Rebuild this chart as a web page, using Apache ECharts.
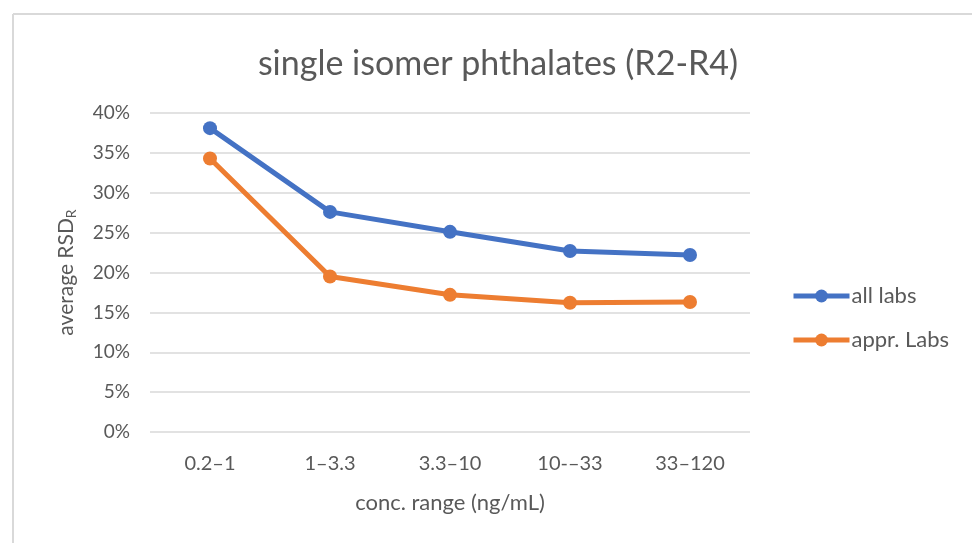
<!DOCTYPE html>
<html>
<head>
<meta charset="utf-8">
<script src="https://cdn.jsdelivr.net/npm/echarts@6/dist/echarts.min.js"></script>
<style>
  html, body { margin: 0; padding: 0; background: #fff; }
  #chart { width: 972px; height: 543px; }
</style>
</head>
<body>
<div id="chart"></div>
<script>
  const categories = ["0.2–1", "1–3.3", "3.3–10", "10-–33", "33–120"];
  const allLabs = [38.1, 27.6, 25.1, 22.7, 22.2];
  const apprLabs = [34.3, 19.5, 17.2, 16.2, 16.3];

  const font = "Lato";
  const grey = "#595959";

  const chart = echarts.init(document.getElementById("chart"));

  chart.setOption({
    animation: false,
    textStyle: { fontFamily: font },
    title: {
      text: "single isomer phthalates (R2-R4)",
      left: 493,
      top: 42,
      textAlign: "center",
      textStyle: { fontSize: 34, fontWeight: "normal", color: grey, fontFamily: font },
    },
    grid: { left: 150, right: 222, top: 113, bottom: 111 },
    legend: {
      orient: "vertical",
      left: 786,
      top: 280,
      itemGap: 22,
      itemWidth: 56,
      itemHeight: 16,
      lineStyle: { width: 5 },
      textStyle: { fontSize: 22, color: grey, fontFamily: font, padding: [0, 0, 0, -3] },
      data: ["all labs", "appr. Labs"],
    },
    xAxis: {
      type: "category",
      data: categories,
      axisLine: { show: false },
      axisTick: { show: false },
      axisLabel: { fontSize: 20, color: grey, margin: 22 },
      name: "conc. range (ng/mL)",
      nameLocation: "middle",
      nameGap: 60,
      nameTextStyle: { fontSize: 22, color: grey },
    },
    yAxis: {
      type: "value",
      min: 0,
      max: 40,
      interval: 5,
      axisLabel: { fontSize: 19, color: grey, margin: 20, formatter: "{value}%" },
      splitLine: { lineStyle: { color: "#d9d9d9", width: 1.5 } },
      name: "{a|average RSD}{s|R}",
      nameLocation: "middle",
      nameGap: 72,
      nameRotate: 90,
      nameTextStyle: {
        rich: {
          a: { fontSize: 21, color: grey, fontFamily: font },
          s: { fontSize: 14, color: grey, fontFamily: font, verticalAlign: "bottom", padding: [10, 0, 0, 0] },
        },
      },
    },
    series: [
      {
        name: "all labs",
        type: "line",
        data: allLabs,
        symbol: "circle",
        symbolSize: 14,
        lineStyle: { width: 5, color: "#4472c4" },
        itemStyle: { color: "#4472c4" },
      },
      {
        name: "appr. Labs",
        type: "line",
        data: apprLabs,
        symbol: "circle",
        symbolSize: 14,
        lineStyle: { width: 5, color: "#ed7d31" },
        itemStyle: { color: "#ed7d31" },
      },
    ],
    graphic: [
      { type: "line", shape: { x1: 13, y1: 14, x2: 972, y2: 14 }, style: { stroke: "#d9d9d9", lineWidth: 2 } },
      { type: "line", shape: { x1: 13, y1: 14, x2: 13, y2: 543 }, style: { stroke: "#d9d9d9", lineWidth: 2 } },
    ],
  });
</script>
</body>
</html>
